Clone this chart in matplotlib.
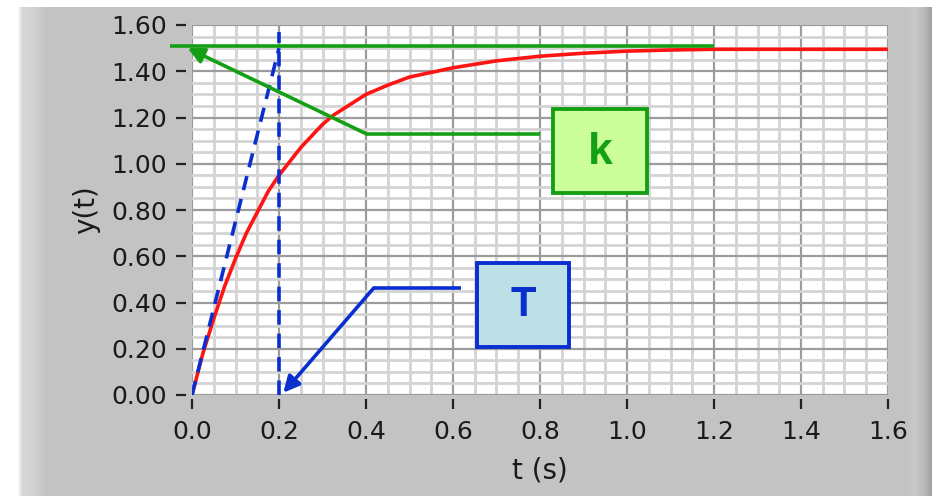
import numpy as np
import matplotlib
matplotlib.use("Agg")
import matplotlib.pyplot as plt
from matplotlib.ticker import MultipleLocator
from matplotlib.patches import Rectangle

# ---- dados ----
t = [0, 0.025, 0.05, 0.075, 0.1, 0.125, 0.15, 0.175, 0.2, 0.225, 0.25, 0.275,
     0.3, 0.325, 0.35, 0.375, 0.4, 0.45, 0.5, 0.55, 0.6, 0.65, 0.7, 0.75,
     0.8, 0.9, 1.0, 1.1, 1.2, 1.4, 1.6]
y = [0, 0.18, 0.33, 0.47, 0.59, 0.70, 0.79, 0.88, 0.95, 1.01, 1.07, 1.12,
     1.17, 1.21, 1.24, 1.27, 1.30, 1.34, 1.375, 1.395, 1.415, 1.43, 1.445, 1.455,
     1.465, 1.478, 1.487, 1.492, 1.495, 1.495, 1.495]
k_ganho = 1.51          # linha verde (valor final)
T_const = 0.2           # constante de tempo
tang_t = [0, 0.2]       # reta tangente na origem
tang_y = [0, 1.5]
vert_y = [0, 1.57]
k_linha_t = [-0.05, 1.2]
xticks = [0.0, 0.2, 0.4, 0.6, 0.8, 1.0, 1.2, 1.4, 1.6]
yticks = [0.0, 0.2, 0.4, 0.6, 0.8, 1.0, 1.2, 1.4, 1.6]

W, H = 932, 496
fig = plt.figure(figsize=(W / 100, H / 100), dpi=100)
fig.patch.set_facecolor("white")

# ---- moldura cinza estilo LabVIEW ----
bg = fig.add_axes([0, 0, 1, 1], zorder=-10)
bg.axis("off")
xs = np.arange(W)
stops_x = [0, 17, 22, 34, 46, 905, 914, 924, 931]
stops_c = [255, 255, 214, 210, 195, 195, 200, 185, 160]
linha = np.interp(xs, stops_x, stops_c)
img = np.tile(linha, (H, 1))
img[:7, :] = 255
img[:, :17] = 255
img = np.dstack([img, img, img]) / 255.0
bg.imshow(img, aspect="auto", extent=[0, 1, 0, 1], interpolation="nearest")
bg.set_xlim(0, 1); bg.set_ylim(0, 1)

# ---- grafico ----
ax = fig.add_axes([192 / W, (H - 395) / H, (888 - 192) / W, (395 - 25) / H])
ax.set_facecolor("white")
ax.set_xlim(0, 1.6)
ax.set_ylim(0, 1.6)
ax.set_xticks(xticks)
ax.set_yticks(yticks)
ax.set_xticklabels([f"{v:.1f}" for v in xticks])
ax.set_yticklabels([f"{v:.2f}" for v in yticks])
ax.xaxis.set_minor_locator(MultipleLocator(0.05))
ax.yaxis.set_minor_locator(MultipleLocator(0.05))
ax.grid(which="minor", color="#d4d4d4", lw=2.0)
ax.grid(which="major", color="#9c9c9c", lw=1.6)
ax.set_axisbelow(True)
for s in ax.spines.values():
    s.set_color("none")
ax.spines["left"].set_position(("outward", 4))
ax.spines["bottom"].set_position(("outward", 3))
ax.tick_params(which="major", length=7, width=1.6, color="#202020",
               labelsize=18, labelcolor="#1a1a1a")
ax.tick_params(axis="y", pad=7)
ax.tick_params(axis="x", pad=8)
ax.tick_params(which="minor", length=0)
ax.set_ylabel("y(t)", fontsize=20, color="#1a1a1a", labelpad=8)
ax.set_xlabel("t (s)", fontsize=20, color="#1a1a1a", labelpad=9)

verde = "#14a014"
azul = "#0a2fd0"
vermelho = "#ff1414"

ax.plot(t, y, color=vermelho, lw=2.6, zorder=3)
ax.plot(k_linha_t, [k_ganho, k_ganho], color=verde, lw=2.6, zorder=4,
        clip_on=False, solid_capstyle="butt")
ax.plot(tang_t, tang_y, color=azul, lw=2.6, ls=(0, (4, 2.5)), zorder=4)
ax.plot([T_const, T_const], vert_y, color=azul, lw=2.6, ls=(0, (4, 2.5)),
        zorder=4, clip_on=False)

# ---- rotulo k ----
ax.plot([0.8, 0.4], [1.13, 1.13], color=verde, lw=2.6, zorder=5,
        solid_capstyle="butt")
ax.annotate("", xy=(-0.01, k_ganho - 0.01), xytext=(0.4, 1.13),
            arrowprops=dict(arrowstyle="-|>", color=verde, lw=2.6,
                            mutation_scale=24, shrinkA=0, shrinkB=0),
            zorder=5, annotation_clip=False)
ax.add_patch(Rectangle((0.83, 0.874), 0.216, 0.364, facecolor="#ccff99",
                       edgecolor=verde, lw=2.8, zorder=6))
ax.text(0.938, 1.05, "k", ha="center", va="center", fontsize=32,
        fontweight="bold", color=verde, family="Liberation Sans", zorder=7)

# ---- rotulo T ----
ax.plot([0.618, 0.418], [0.463, 0.463], color=azul, lw=2.6, zorder=5,
        solid_capstyle="butt")
ax.annotate("", xy=(T_const + 0.01, 0.01), xytext=(0.418, 0.463),
            arrowprops=dict(arrowstyle="-|>", color=azul, lw=2.6,
                            mutation_scale=24, shrinkA=0, shrinkB=0),
            zorder=5, annotation_clip=False)
ax.add_patch(Rectangle((0.655, 0.208), 0.212, 0.363, facecolor="#bde0e6",
                       edgecolor=azul, lw=2.8, zorder=6))
ax.text(0.761, 0.39, "T", ha="center", va="center", fontsize=30,
        fontweight="bold", color=azul, family="Liberation Sans", zorder=7)

fig.savefig("out.png", dpi=100, facecolor=fig.get_facecolor())
